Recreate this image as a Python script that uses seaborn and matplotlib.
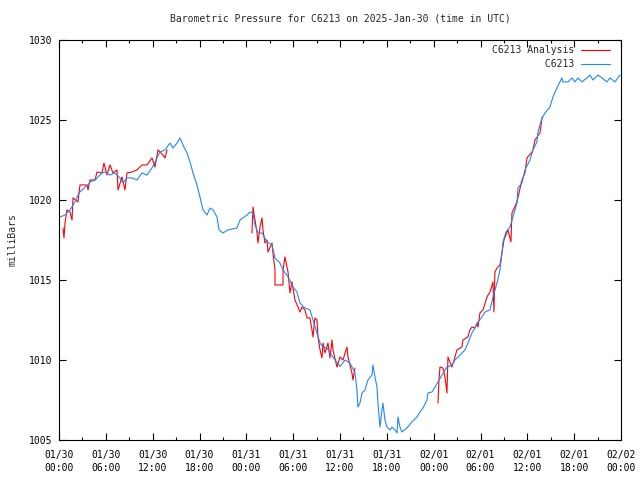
import numpy as np
import pandas as pd
import seaborn as sns
import matplotlib
matplotlib.use("Agg")
import matplotlib.pyplot as plt
from matplotlib.ticker import MultipleLocator

# hours since 2025-01-30 00:00 UTC, pressure in mb
station_hours = [0.13, 0.77, 1.41, 2.05, 2.56, 3.33, 3.72, 3.97, 4.61, 5.51, 5.89, 6.53, 7.17, 7.81,
                 8.20, 8.71, 9.35, 9.99, 10.63, 11.27, 11.91, 12.55, 12.94, 13.58, 14.22, 14.60, 15.12,
                 15.50, 15.88, 16.40, 16.78, 17.17, 17.68, 18.06, 18.45, 18.96, 19.34, 19.73, 20.24,
                 20.50, 21.01, 21.65, 22.80, 23.19, 24.08, 24.47, 24.85, 25.11, 25.49, 26.01, 26.65,
                 27.29, 27.67, 28.31, 28.70, 29.34, 29.98, 30.49, 30.87, 31.51, 32.15, 32.54, 33.05,
                 33.44, 33.82, 34.33, 34.72, 35.36, 36.00, 36.64, 37.28, 37.92, 38.17, 38.30, 38.56,
                 38.82, 39.20, 39.46, 39.58, 40.10, 40.22, 40.48, 40.74, 40.86, 41.12, 41.38, 41.50,
                 41.76, 42.02, 42.40, 42.66, 43.04, 43.30, 43.43, 43.68, 43.94, 44.58, 45.22, 45.86,
                 46.24, 46.63, 47.14, 47.27, 47.78, 48.17, 48.55, 49.06, 49.70, 50.34, 50.73, 51.37,
                 52.01, 52.39, 52.91, 53.29, 53.68, 54.19, 54.57, 55.21, 55.60, 56.11, 56.50, 56.75,
                 56.88, 57.26, 57.78, 58.16, 58.67, 58.80, 59.31, 59.70, 60.34, 60.72, 61.23, 61.36,
                 61.88, 62.26, 62.90, 63.28, 63.79, 64.43, 64.56, 65.20, 65.72, 66.10, 66.49, 67.00,
                 67.64, 68.02, 68.41, 69.05, 69.56, 70.20, 70.58, 71.22, 71.87]
station_mb = [1018.94, 1019.06, 1019.38, 1019.88, 1020.44, 1020.81, 1020.94, 1021.13, 1021.25, 1021.69,
              1021.75, 1021.56, 1021.69, 1021.38, 1021.06, 1021.38, 1021.38, 1021.25, 1021.69, 1021.56,
              1022.0, 1022.63, 1023.0, 1023.13, 1023.56, 1023.25, 1023.56, 1023.88, 1023.44, 1022.94,
              1022.38, 1021.69, 1020.94, 1020.19, 1019.38, 1019.06, 1019.5, 1019.38, 1018.94, 1018.13,
              1017.94, 1018.13, 1018.25, 1018.75, 1019.06, 1019.25, 1019.19, 1018.44, 1017.94, 1017.94,
              1017.38, 1017.19, 1016.38, 1016.06, 1015.63, 1015.19, 1014.56, 1014.25, 1013.56, 1013.25,
              1013.13, 1012.5, 1011.69, 1011.06, 1010.81, 1010.75, 1010.44, 1010.0, 1009.6, 1010.0,
              1009.8, 1009.2, 1008.13, 1007.06, 1007.31, 1007.94, 1008.13, 1008.56, 1008.75, 1009.06,
              1009.69, 1008.94, 1008.31, 1007.31, 1005.81, 1006.88, 1007.31, 1006.25, 1005.81, 1005.63,
              1005.81, 1005.63, 1005.44, 1006.44, 1005.81, 1005.5, 1005.75, 1006.13, 1006.44, 1006.75,
              1007.0, 1007.5, 1007.94, 1008.0, 1008.31, 1008.63, 1009.06, 1009.56, 1009.69, 1010.0,
              1010.31, 1010.63, 1011.06, 1011.69, 1012.0, 1012.38, 1012.69, 1013.0, 1013.13, 1013.94,
              1014.81, 1015.63, 1016.69, 1017.38, 1018.0, 1018.31, 1018.94, 1019.81, 1020.75, 1021.06,
              1021.88, 1022.5, 1023.13, 1023.63, 1024.25, 1025.13, 1025.44, 1025.81, 1026.44, 1027.0,
              1027.63, 1027.38, 1027.38, 1027.63, 1027.38, 1027.63, 1027.38, 1027.63, 1027.81, 1027.5,
              1027.81, 1027.63, 1027.38, 1027.63, 1027.38, 1027.81]

# analysis series, nan marks a gap
analysis_hours = [0.51, 0.64, 0.77, 1.02, 1.41, 1.67, 1.79, 2.43, 2.69, 3.59, 3.72, 3.97, 4.61, 4.87,
                  5.51, 5.76, 6.15, 6.53, 6.92, 7.43, 7.56, 8.07, 8.45, 8.71, 9.35, 9.99, 10.63, 11.27,
                  11.91, 12.30, 12.68, 13.32, 13.58, 13.84, np.nan,
                  24.72, 24.85, 25.11, 25.36, 25.49, 25.75, 26.01, 26.13, 26.39, 26.65, 26.77, 27.29,
                  27.41, 27.67, 27.67, 28.31, 28.70, 28.70, 28.95, 29.21, 29.34, 29.59, 29.85, 30.23,
                  30.62, 30.87, 31.13, 31.51, 31.77, 32.15, 32.41, 32.54, 32.79, 33.05, 33.18, 33.44,
                  33.69, 33.82, 34.08, 34.46, 34.72, 34.97, 35.10, 35.61, 36.00, 36.38, 36.89, 37.02,
                  37.53, 37.66, 37.92, np.nan,
                  48.55, 48.68, 48.81, 49.19, 49.45, 49.70, 49.83, 50.34, 50.73, 50.98, 51.62, 51.75,
                  52.39, 52.65, 52.91, 53.29, 53.55, 53.68, 53.93, 54.32, 54.83, 55.21, 55.60, 55.72,
                  55.85, 56.11, 56.50, 56.75, 57.01, 57.52, 57.90, 58.03, 58.67, 59.31, 59.70, 59.95,
                  60.59, 60.72, 60.98, 61.62, 61.88, 62.00]
analysis_mb = [1018.25, 1017.63, 1018.56, 1019.38, 1019.25, 1018.75, 1020.13, 1019.88, 1020.94, 1020.94,
               1020.63, 1021.25, 1021.25, 1021.75, 1021.69, 1022.31, 1021.56, 1022.19, 1021.69, 1021.88,
               1020.63, 1021.44, 1020.63, 1021.69, 1021.75, 1021.88, 1022.19, 1022.19, 1022.63, 1022.06,
               1023.13, 1022.81, 1022.63, 1023.13, np.nan,
               1017.94, 1019.56, 1018.75, 1018.0, 1017.31, 1018.31, 1018.88, 1018.13, 1017.31, 1017.5,
               1016.75, 1017.31, 1016.69, 1015.63, 1014.69, 1014.69, 1014.69, 1015.63, 1016.44, 1015.81,
               1015.5, 1014.19, 1014.88, 1013.75, 1013.31, 1013.0, 1013.31, 1013.13, 1012.63, 1012.63,
               1011.88, 1011.44, 1012.63, 1012.5, 1011.44, 1010.63, 1010.13, 1011.06, 1010.44, 1011.06,
               1010.13, 1011.25, 1010.63, 1009.56, 1010.19, 1010.0, 1010.81, 1010.19, 1009.19, 1008.75,
               1009.5, np.nan,
               1007.31, 1008.75, 1009.56, 1009.5, 1008.94, 1007.94, 1010.19, 1009.56, 1010.19, 1010.63,
               1010.81, 1011.25, 1011.44, 1011.88, 1012.06, 1012.0, 1012.31, 1012.06, 1012.94, 1013.13,
               1013.94, 1014.25, 1014.88, 1013.0, 1015.5, 1015.75, 1015.94, 1016.69, 1017.5, 1018.13,
               1017.38, 1019.19, 1019.88, 1021.25, 1021.69, 1022.63, 1023.0, 1023.13, 1023.75, 1024.19,
               1025.13, 1025.19]

tick_hours = list(range(0, 73, 6))
tick_labels = ["01/30\n00:00", "01/30\n06:00", "01/30\n12:00", "01/30\n18:00",
               "01/31\n00:00", "01/31\n06:00", "01/31\n12:00", "01/31\n18:00",
               "02/01\n00:00", "02/01\n06:00", "02/01\n12:00", "02/01\n18:00",
               "02/02\n00:00"]

sns.set_style("ticks")
plt.rcParams["font.family"] = ["DejaVu Sans Mono"]
plt.rcParams["font.size"] = 7

station = pd.DataFrame({"hours": station_hours, "mb": station_mb})
analysis = pd.DataFrame({"hours": analysis_hours, "mb": analysis_mb})
analysis["seg"] = analysis["mb"].isna().cumsum()
analysis = analysis.dropna()

fig = plt.figure(figsize=(6.4, 4.8), dpi=100)
ax = fig.add_axes([59 / 640, 40 / 480, 562 / 640, 400 / 480])

sns.lineplot(data=analysis, x="hours", y="mb", units="seg", estimator=None, sort=False,
             color="#ff0000", lw=0.8, ax=ax)
sns.lineplot(data=station, x="hours", y="mb", estimator=None, sort=False,
             color="#1e88ff", lw=0.8, ax=ax)

ax.set_xlim(0, 72)
ax.set_ylim(1005, 1030)
ax.set_xticks(tick_hours)
ax.set_xticklabels(tick_labels, linespacing=1.35)
ax.xaxis.set_minor_locator(MultipleLocator(3))
ax.set_yticks(range(1005, 1031, 5))
ax.tick_params(which="both", direction="in", top=True, right=True, colors="black", labelsize=7)
ax.tick_params(which="major", length=5, width=0.8)
ax.tick_params(axis="x", which="major", pad=7)
ax.tick_params(axis="y", which="major", pad=5)
ax.tick_params(which="minor", length=2.5, width=0.8)
for s in ax.spines.values():
    s.set_linewidth(0.8)
    s.set_color("black")

ax.set_xlabel("")
ax.set_ylabel("milliBars", fontsize=7, labelpad=8)
ax.set_title("Barometric Pressure for C6213 on 2025-Jan-30 (time in UTC)", fontsize=7, pad=13)

lines = ax.get_lines()
ax.legend(handles=[lines[0], lines[-1]], labels=["C6213 Analysis", "         C6213"],
          loc="upper right", bbox_to_anchor=(1 - 9 / 562, 1 - 3 / 400),
          frameon=False, markerfirst=False, fontsize=7,
          handlelength=3, handletextpad=0.7, labelspacing=0.45,
          borderpad=0.2, borderaxespad=0)

fig.savefig("out.png", dpi=100)
